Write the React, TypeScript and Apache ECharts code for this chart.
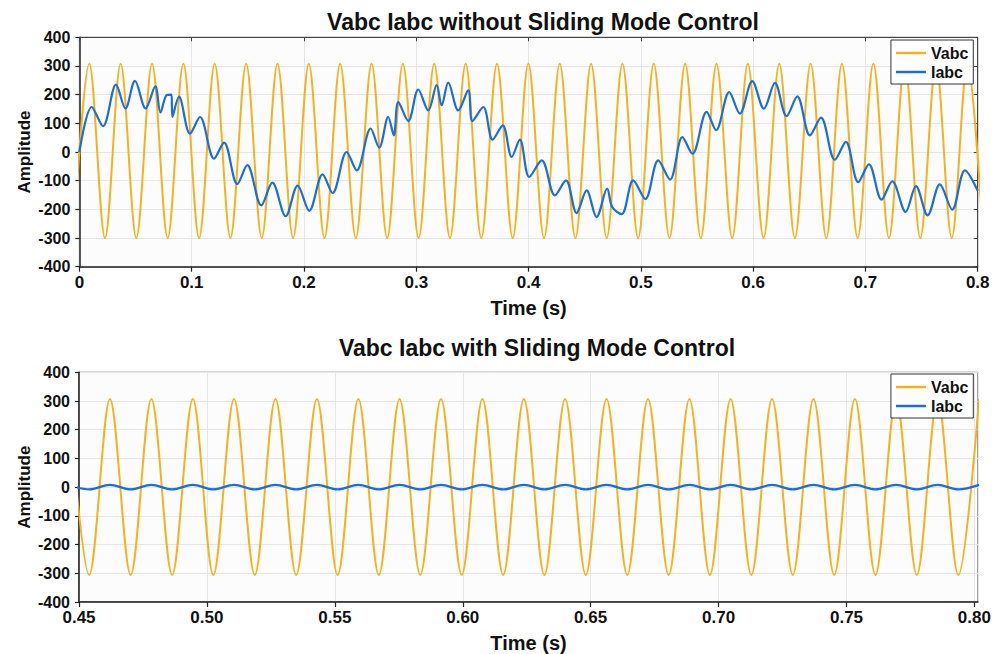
import React, { useEffect, useRef } from 'react';
import * as echarts from 'echarts';

// ---------- Data ----------
// Top plot (without SMC): Vabc extrema (trough / peak alternating), time in s
const vabcTopTimes = [
  -0.0052, 0.0088, 0.0228, 0.0367, 0.0507, 0.0647, 0.0786, 0.0926, 0.1066, 0.1205,
  0.1345, 0.1485, 0.1624, 0.1764, 0.1903, 0.2043, 0.2183, 0.2322, 0.2462, 0.2602,
  0.2741, 0.2881, 0.3021, 0.3160, 0.3300, 0.3440, 0.3579, 0.3719, 0.3859, 0.3998,
  0.4138, 0.4278, 0.4417, 0.4557, 0.4696, 0.4836, 0.4976, 0.5115, 0.5255, 0.5395,
  0.5534, 0.5674, 0.5814, 0.5953, 0.6093, 0.6233, 0.6372, 0.6512, 0.6652, 0.6791,
  0.6931, 0.7071, 0.7210, 0.7350, 0.7489, 0.7629, 0.7769, 0.7908, 0.8048,
];
const vabcTopValues = [
  -300, 308, -300, 308, -300, 308, -300, 308, -300, 308,
  -300, 308, -300, 308, -300, 308, -300, 308, -300, 308,
  -300, 308, -300, 308, -300, 308, -300, 308, -300, 308,
  -300, 308, -300, 308, -300, 308, -300, 308, -300, 308,
  -300, 308, -300, 308, -300, 308, -300, 308, -300, 308,
  -300, 308, -300, 308, -300, 308, -300, 308, -300,
];

// Top plot: Iabc turning points
const iabcTopTimes = [
  0.0, 0.011, 0.021, 0.0326, 0.041, 0.0495, 0.059, 0.0676, 0.0722, 0.0777,
  0.082, 0.0828, 0.0887, 0.0985, 0.1074, 0.1199, 0.1288, 0.1406, 0.1495, 0.162,
  0.1718, 0.1837, 0.1944, 0.2047, 0.2166, 0.2255, 0.238, 0.247, 0.2594, 0.267,
  0.275, 0.28, 0.284, 0.2929, 0.3018, 0.3107, 0.3182, 0.3226, 0.3285, 0.3374,
  0.3463, 0.35, 0.3597, 0.368, 0.377, 0.385, 0.3923, 0.4006, 0.4117, 0.4235,
  0.4333, 0.4428, 0.4517, 0.4606, 0.47, 0.4745, 0.4829, 0.4932, 0.504, 0.5155,
  0.526, 0.537, 0.546, 0.5586, 0.567, 0.5787, 0.5882, 0.5992, 0.6096, 0.6194,
  0.6298, 0.6393, 0.6506, 0.6604, 0.6728, 0.6826, 0.6936, 0.7031, 0.7144, 0.7239,
  0.7358, 0.745, 0.7554, 0.7663, 0.7773, 0.7886, 0.8,
];
const iabcTopValues = [
  0, 157, 90, 235, 152, 248, 152, 229, 138, 198,
  200, 122, 193, 64, 122, -23, 33, -112, -46, -186,
  -107, -224, -117, -205, -78, -143, 0, -64, 82, 15,
  122, 58, 174, 108, 218, 145, 233, 163, 242, 145,
  215, 108, 157, 43, 93, -17, 43, -87, -29, -151,
  -99, -213, -134, -227, -128, -192, -217, -99, -164, -29,
  -96, 52, -6, 140, 76, 209, 134, 247, 151, 241,
  125, 194, 58, 120, -27, 35, -105, -43, -166, -102,
  -209, -119, -221, -113, -201, -64, -135,
];

// Bottom plot (with SMC): shared extrema times (peak / trough alternating)
const botTimes = [
  0.4459, 0.4540, 0.4621, 0.4702, 0.4783, 0.4864, 0.4945, 0.5025, 0.5106, 0.5187,
  0.5268, 0.5349, 0.5430, 0.5511, 0.5592, 0.5672, 0.5753, 0.5834, 0.5915, 0.5996,
  0.6077, 0.6158, 0.6239, 0.6319, 0.6400, 0.6481, 0.6562, 0.6643, 0.6724, 0.6805,
  0.6886, 0.6966, 0.7047, 0.7128, 0.7209, 0.7290, 0.7371, 0.7452, 0.7533, 0.7613,
  0.7694, 0.7775, 0.7856, 0.7937, 0.8018,
];
const vabcBotValues = [
  307, -306, 307, -306, 307, -306, 307, -306, 307, -306,
  307, -306, 307, -306, 307, -306, 307, -306, 307, -306,
  307, -306, 307, -306, 307, -306, 307, -306, 307, -306,
  307, -306, 307, -306, 307, -306, 307, -306, 307, -306,
  307, -306, 307, -306, 307,
];
const iabcBotValues = [
  8, -8, 8, -8, 8, -8, 8, -8, 8, -8,
  8, -8, 8, -8, 8, -8, 8, -8, 8, -8,
  8, -8, 8, -8, 8, -8, 8, -8, 8, -8,
  8, -8, 8, -8, 8, -8, 8, -8, 8, -8,
  8, -8, 8, -8, 8,
];

const titles = ['Vabc Iabc without Sliding Mode Control', 'Vabc Iabc with Sliding Mode Control'];
const seriesNames = ['Vabc', 'Iabc'];
const xAxisName = 'Time (s)';
const yAxisName = 'Amplitude';

// ---------- Styling ----------
const FONT = '"Liberation Sans", Arial, Helvetica, sans-serif';
const ORANGE = '#F4B21E';
const BLUE = '#1C6ED6';
const AXIS = '#222';
const GRIDLINE = '#e6e6e6';

const zip = (t: number[], v: number[]) => t.map((x, i) => [x, v[i]]);

function buildOption() {
  const yLabelStyle = { color: '#111', fontSize: 16, fontWeight: 'bold', fontFamily: FONT };
  const xLabelStyle = { color: '#111', fontSize: 17, fontWeight: 'bold', fontFamily: FONT };
  const nameStyle = { color: '#111', fontSize: 20, fontWeight: 'bold', fontFamily: FONT };
  const axisLine = { show: true, onZero: false, lineStyle: { color: AXIS, width: 1.5 } };
  const split = { show: true, lineStyle: { color: GRIDLINE, width: 1 } };

  const legendBase = (top: number) => ({
    show: true,
    orient: 'vertical',
    right: 27.7,
    top,
    backgroundColor: '#fff',
    borderColor: '#333',
    borderWidth: 1,
    borderRadius: 0,
    padding: [5, 5, 4, 5],
    itemGap: 3,
    itemWidth: 30,
    itemHeight: 2.5,
    icon: 'rect',
    selectedMode: false,
    textStyle: { fontSize: 16, fontWeight: 'bold', color: '#111', fontFamily: FONT, lineHeight: 16 },
    data: seriesNames.map((n) => ({ name: n, icon: 'rect' })),
  });

  const titleText = (text: string, x: number, y: number) => ({
    type: 'text', x, y, z: 10,
    style: {
      text, fontSize: 23, fontWeight: 'bold', fontFamily: FONT, fill: '#111',
      textAlign: 'center', textVerticalAlign: 'middle', align: 'center', verticalAlign: 'middle',
    },
  });

  const yName = {
    name: yAxisName, nameLocation: 'middle', nameGap: 46, nameMoveOverlap: false,
    nameTextStyle: { ...nameStyle, fontSize: 17 },
  };
  const xName = {
    name: xAxisName, nameLocation: 'middle', nameGap: 31, nameMoveOverlap: false,
    nameTextStyle: nameStyle,
  };

  return {
    animation: false,
    backgroundColor: '#ffffff',
    graphic: [titleText(titles[0], 543, 22), titleText(titles[1], 537, 348)],
    legend: [legendBase(40), legendBase(374)],
    grid: [
      { left: 79.4, top: 37.3, width: 898.3, height: 229.4, show: true, borderColor: '#444', borderWidth: 1, backgroundColor: '#fcfcfc' },
      { left: 79, top: 372.3, width: 899, height: 231, show: true, borderColor: '#444', borderWidth: 1, backgroundColor: '#fcfcfc' },
    ],
    xAxis: [
      {
        gridIndex: 0, type: 'value', min: 0, max: 0.8, interval: 0.1,
        axisLine, axisTick: { show: true, length: 5, lineStyle: { color: AXIS, width: 1.2 } },
        axisLabel: { ...xLabelStyle, margin: 7, formatter: (v: number) => (v === 0 ? '0' : String(Math.round(v * 10) / 10)) },
        splitLine: split,
        ...xName,
      },
      {
        gridIndex: 0, type: 'value', position: 'top', min: 0, max: 0.8, interval: 0.1,
        axisLine: { show: true, onZero: false, lineStyle: { color: '#444', width: 1 } },
        axisTick: { show: true, inside: true, length: 4, lineStyle: { color: '#444' } },
        axisLabel: { show: false }, splitLine: { show: false },
      },
      {
        gridIndex: 1, type: 'value', min: 0.45, max: 0.8014, interval: 0.05,
        axisLine, axisTick: { show: true, length: 5, lineStyle: { color: AXIS, width: 1.2 } },
        axisLabel: { ...xLabelStyle, margin: 7, showMaxLabel: false, formatter: (v: number) => v.toFixed(2) },
        splitLine: split,
        ...xName,
      },
    ],
    yAxis: [
      {
        gridIndex: 0, type: 'value', min: -400, max: 400, interval: 100,
        axisLine, axisTick: { show: true, length: 4, lineStyle: { color: AXIS, width: 1.2 } },
        axisLabel: { ...yLabelStyle, margin: 9 },
        splitLine: split,
        ...yName,
      },
      {
        gridIndex: 0, type: 'value', position: 'right', min: -400, max: 400, interval: 100,
        axisLine: { show: true, onZero: false, lineStyle: { color: '#444', width: 1 } },
        axisTick: { show: true, inside: true, length: 4, lineStyle: { color: '#444' } },
        axisLabel: { show: false }, splitLine: { show: false },
      },
      {
        gridIndex: 1, type: 'value', min: -400, max: 400, interval: 100,
        axisLine, axisTick: { show: true, length: 4, lineStyle: { color: AXIS, width: 1.2 } },
        axisLabel: { ...yLabelStyle, margin: 9 },
        splitLine: split,
        ...yName,
      },
    ],
    series: [
      {
        name: seriesNames[0], type: 'line', xAxisIndex: 0, yAxisIndex: 0,
        data: zip(vabcTopTimes, vabcTopValues), smooth: 0.333, symbol: 'none', clip: true,
        color: ORANGE, lineStyle: { color: ORANGE, width: 2 }, z: 2,
      },
      {
        name: seriesNames[1], type: 'line', xAxisIndex: 0, yAxisIndex: 0,
        data: zip(iabcTopTimes, iabcTopValues), smooth: 0.333, symbol: 'none', clip: true,
        color: BLUE, lineStyle: { color: BLUE, width: 2.2 }, z: 3,
      },
      {
        name: seriesNames[0], type: 'line', xAxisIndex: 2, yAxisIndex: 2,
        data: zip(botTimes, vabcBotValues), smooth: 0.333, symbol: 'none', clip: true,
        color: ORANGE, lineStyle: { color: ORANGE, width: 2 }, z: 2,
      },
      {
        name: seriesNames[1], type: 'line', xAxisIndex: 2, yAxisIndex: 2,
        data: zip(botTimes, iabcBotValues), smooth: 0.333, symbol: 'none', clip: true,
        color: BLUE, lineStyle: { color: BLUE, width: 2.2 }, z: 3,
      },
    ],
  };
}

export default function App() {
  const ref = useRef<HTMLDivElement>(null);
  useEffect(() => {
    if (!ref.current) return;
    const chart = echarts.init(ref.current, undefined, { renderer: 'svg' });
    chart.setOption(buildOption() as any);
    return () => chart.dispose();
  }, []);
  return (
    <div
      ref={ref}
      style={{ position: 'absolute', left: 0, top: 0, width: 1001, height: 654, background: '#fff' }}
    />
  );
}
